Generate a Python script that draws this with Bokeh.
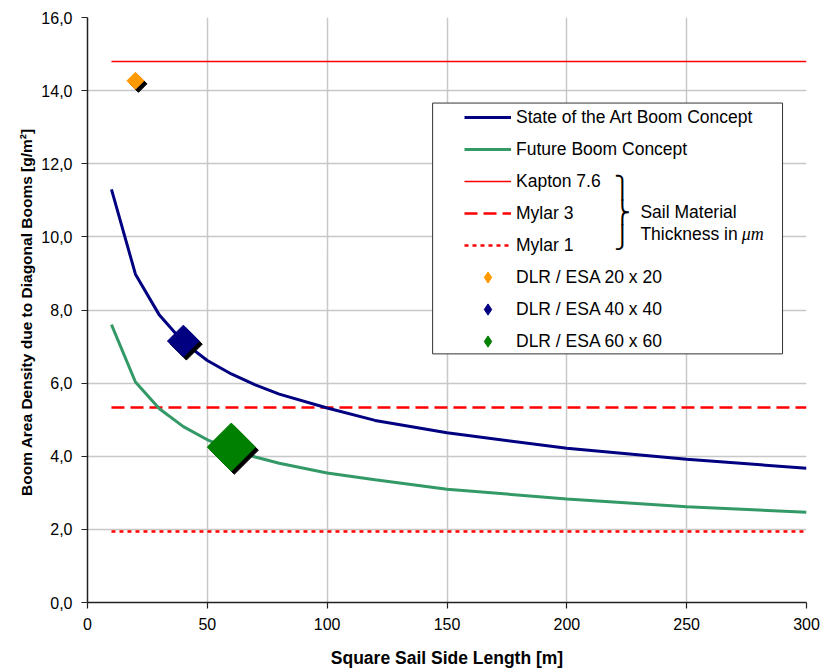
import numpy as np
from bokeh.plotting import figure
from bokeh.models import (Range1d, FixedTicker, CustomJSTickFormatter, Legend, LegendItem,
                          BoxAnnotation, Label, ColumnDataSource)
from bokeh.transform import dodge
from bokeh.core.properties import value
from bokeh.embed import file_html
from bokeh.resources import INLINE

# ---------------- data ----------------
side_len = [10, 20, 30, 40, 50, 60, 70, 80, 100, 120, 150, 200, 250, 300]
soa_density = [11.30, 8.98, 7.86, 7.12, 6.62, 6.25, 5.95, 5.70, 5.32, 4.98, 4.64, 4.22, 3.92, 3.67]
future_density = [7.60, 6.03, 5.30, 4.81, 4.45, 4.19, 3.98, 3.81, 3.54, 3.36, 3.10, 2.83, 2.62, 2.47]

sail_x = [10, 300]
kapton_76 = [14.80, 14.80]
mylar_3 = [5.33, 5.33]
mylar_1 = [1.94, 1.94]

dlr_labels = ["DLR / ESA 20 x 20", "DLR / ESA 40 x 40", "DLR / ESA 60 x 60"]
dlr_side = [20, 40, 60]
dlr_density = [14.27, 7.15, 4.25]

x_ticks = [0, 50, 100, 150, 200, 250, 300]
y_ticks = [0, 2, 4, 6, 8, 10, 12, 14, 16]

# ---------------- styles ----------------
dlr_colors = ["#FF9900", "#000080", "#008000"]
dlr_marker_px = [12, 22.5, 34]
FONT = "Liberation Sans"

p = figure(width=820, height=670, x_range=Range1d(0, 300), y_range=Range1d(0, 16),
           output_backend="svg", toolbar_location=None,
           min_border_left=87, min_border_right=14, min_border_top=17, min_border_bottom=65)
p.outline_line_color = None
p.background_fill_color = "white"
p.border_fill_color = "white"

# grid
p.xgrid.ticker = FixedTicker(ticks=x_ticks)
p.ygrid.ticker = FixedTicker(ticks=y_ticks)
for g in (p.xgrid, p.ygrid):
    g.grid_line_color = "#c8c8c8"
    g.grid_line_width = 1.5

# axes
p.xaxis.ticker = FixedTicker(ticks=x_ticks)
p.yaxis.ticker = FixedTicker(ticks=y_ticks)
p.yaxis.formatter = CustomJSTickFormatter(code="return tick.toFixed(1).replace('.', ',');")
p.xaxis.axis_label = "Square Sail Side Length [m]"
p.yaxis.axis_label = "Boom Area Density due to Diagonal Booms  [g/m\u00b2]"
for ax in (p.xaxis[0], p.yaxis[0]):
    ax.axis_line_color = "#222222"
    ax.axis_line_width = 1.5
    ax.major_tick_line_color = "#222222"
    ax.major_tick_line_width = 1.2
    ax.major_tick_in = 0
    ax.major_tick_out = 6
    ax.minor_tick_line_color = None
    ax.major_label_text_font = FONT
    ax.major_label_text_font_size = "16px"
    ax.major_label_text_color = "black"
    ax.axis_label_text_font = FONT
    ax.axis_label_text_font_style = "bold"
    ax.axis_label_text_color = "black"
p.xaxis.axis_label_text_font_size = "17.5px"
p.yaxis.axis_label_text_font_size = "15.5px"
p.xaxis.major_label_standoff = 9
p.yaxis.major_label_standoff = 9
p.xaxis.axis_label_standoff = 15
p.yaxis.axis_label_standoff = 3

# sail material lines
r_kap = p.line(sail_x, kapton_76, line_color="#FF0000", line_width=1.5)
r_my3 = p.line(sail_x, mylar_3, line_color="#FF0000", line_width=2.5, line_dash="13 6")
r_my1 = p.line(sail_x, mylar_1, line_color="#FF0000", line_width=2.5, line_dash="4 4")

# boom concept curves
r_soa = p.line(side_len, soa_density, line_color="#000080", line_width=3)
r_fut = p.line(side_len, future_density, line_color="#339966", line_width=3)

# DLR / ESA markers with drop shadows
legend_proxies = []
for i in range(len(dlr_side)):
    src = ColumnDataSource(dict(x=[dlr_side[i]], y=[dlr_density[i]]))
    p.scatter(x=dodge("x", 1.25, range=p.x_range), y=dodge("y", -0.085, range=p.y_range),
              source=src, marker="square", angle=np.pi / 4, size=dlr_marker_px[i],
              fill_color="black", line_color="black")
    p.scatter(x="x", y="y", source=src, marker="square", angle=np.pi / 4,
              size=dlr_marker_px[i], fill_color=dlr_colors[i], line_color=dlr_colors[i])
    proxy = p.scatter(x="x", y="y", source=src, marker="diamond", size=14,
                      fill_color=dlr_colors[i], line_color=dlr_colors[i], visible=False)
    legend_proxies.append(proxy)

# legend frame
box = BoxAnnotation(left=144, right=290, top=13.66, bottom=6.80,
                    fill_color="white", fill_alpha=1.0,
                    line_color="#333333", line_width=1, line_alpha=1.0)
p.add_layout(box)

items = [
    LegendItem(label="State of the Art Boom Concept", renderers=[r_soa]),
    LegendItem(label="Future Boom Concept", renderers=[r_fut]),
    LegendItem(label="Kapton 7.6", renderers=[r_kap]),
    LegendItem(label="Mylar 3", renderers=[r_my3]),
    LegendItem(label="Mylar 1", renderers=[r_my1]),
] + [LegendItem(label=dlr_labels[i], renderers=[legend_proxies[i]]) for i in range(3)]

legend = Legend(items=items, location=(377, 247), orientation="vertical",
                padding=0, margin=0, spacing=4,
                glyph_width=47, glyph_height=28, label_height=28, label_standoff=5,
                label_text_font=FONT, label_text_font_size="17.5px", label_text_color="black",
                border_line_alpha=0, background_fill_alpha=0)
p.add_layout(legend)

# brace and note
p.add_layout(Label(x=223.2, y=10.67, text="\u23ab\n\u23ac\n\u23ad",
                   text_font="DejaVu Sans", text_font_size="22px", text_line_height=1.0,
                   text_align="center", text_baseline="middle", text_color="black"))
p.add_layout(Label(x=230.7, y=10.69, text="Sail Material", text_font=FONT,
                   text_font_size="17.5px", text_baseline="alphabetic", text_color="black"))
p.add_layout(Label(x=230.7, y=10.07, text="Thickness in", text_font=FONT,
                   text_font_size="17.5px", text_baseline="alphabetic", text_color="black"))
p.add_layout(Label(x=273.0, y=10.07, text="\u03bcm", text_font="Liberation Serif",
                   text_font_style="italic", text_font_size="18px",
                   text_baseline="alphabetic", text_color="black"))

open("out.html", "w").write(file_html(p, INLINE))
